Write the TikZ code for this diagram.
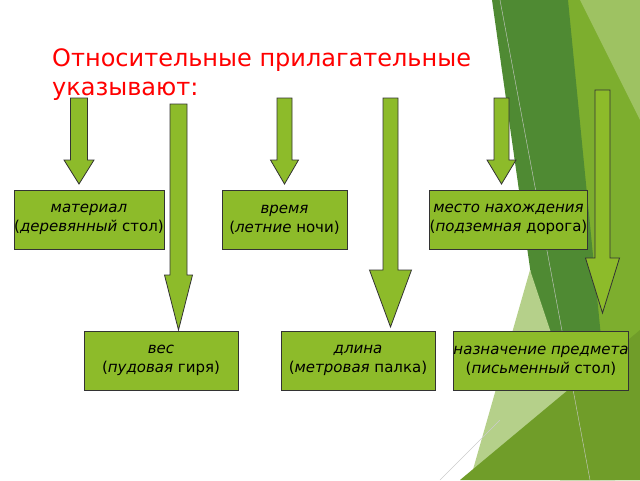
\documentclass[tikz,border=0pt]{standalone}
\usepackage{fontspec}
\setmainfont{DejaVu Sans}
\usetikzlibrary{positioning,shapes.arrows}
\definecolor{boxgreen}{HTML}{8DBB2A}
\definecolor{darkbg}{HTML}{4F8A33}
\definecolor{midbg}{HTML}{7DAE2E}
\definecolor{lightbg}{HTML}{B5D08A}
\begin{document}
\begin{tikzpicture}[
  x=1pt, y=-1pt,
  font=\fontsize{15}{19}\selectfont,
  block/.style={draw=black!80, fill=boxgreen, minimum width=#1, minimum height=59pt, align=center, inner sep=0pt},
  down/.style={draw=black!80, fill=boxgreen, line width=0.8pt}
]
\useasboundingbox (0,0) rectangle (640,480);
% Background
\fill[midbg] (555,0) -- (640,0) -- (640,480) -- (560,480) -- cycle;
\fill[darkbg] (492,0) -- (568,0) -- (615,480) -- (560,480) -- cycle;
\fill[midbg!75!white] (580,0) -- (640,0) -- (640,120) -- cycle;
\fill[lightbg] (530,270) -- (600,480) -- (470,480) -- cycle;
\fill[midbg!90!black] (460,480) -- (640,330) -- (640,480) -- cycle;
\draw[gray!40] (500,0) -- (590,480);
\draw[gray!40] (440,480) -- (500,420);

% Title
\node[anchor=north west, text=red, align=left, font=\fontsize{24}{29}\selectfont, inner sep=0pt] (title) at (52,48)
  {Относительные прилагательные\\указывают:};

% Boxes
\node[block=150pt] (mat) at (89,219.5) {\textit{материал}\\(\textit{деревянный} стол)};
\node[block=125pt] (time) at (284.5,219.5) {\textit{время}\\(\textit{летние} ночи)};
\node[block=155pt] (place) at (508.5,219.5) {\textit{место нахождения}\\(\textit{подземная} дорога)};
\node[block=154pt] (weight) at (161,360.5) {\textit{вес}\\(\textit{пудовая} гиря)};
\node[block=154pt] (len) at (358,360.5) {\textit{длина}\\(\textit{метровая} палка)};
\node[block=170pt] (purp) at (541,360.5) {\textit{назначение предмета}\\(\textit{письменный} стол)};

% Arrows
\foreach \cx/\top/\hd/\tip/\sw/\hw in {79/98/160/184/8.5/15, 178.5/104/275/330/8.5/14,
  284.5/98/160/184/7.5/14, 390.5/98/270/327/7.5/21, 501.5/98/160/184/7.5/14.5, 602.5/90/258/313/7.5/17}
  \draw[down] (\cx-\sw,\top) -- (\cx+\sw,\top) -- (\cx+\sw,\hd) -- (\cx+\hw,\hd) -- (\cx,\tip)
    -- (\cx-\hw,\hd) -- (\cx-\sw,\hd) -- cycle;
\end{tikzpicture}
\end{document}
